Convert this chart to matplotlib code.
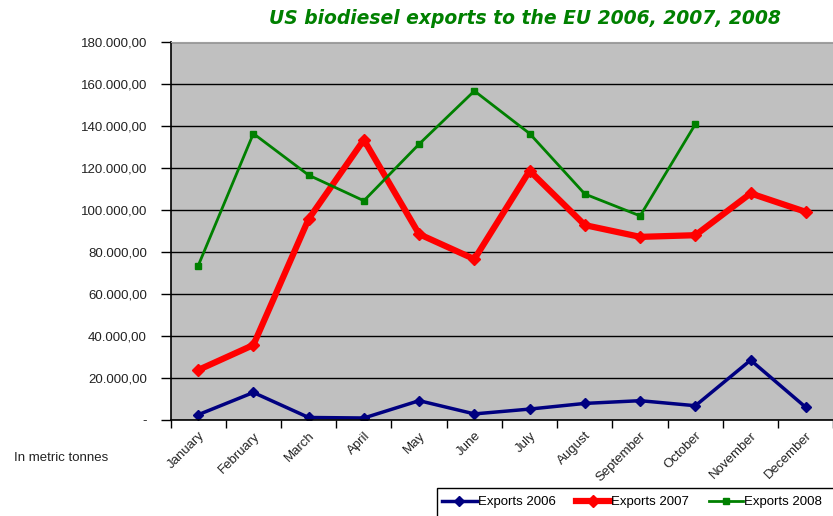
import matplotlib.pyplot as plt
from matplotlib.patches import Rectangle
from matplotlib.ticker import FuncFormatter, MultipleLocator

months = ['January', 'February', 'March', 'April', 'May', 'June', 'July',
          'August', 'September', 'October', 'November', 'December']
exports_2006 = [2500, 13100, 1200, 950, 9200, 2900, 5200, 7900, 9200, 6800, 28500, 6000]
exports_2007 = [23800, 35700, 95700, 133400, 88500, 76600, 118700, 92800, 87200, 88000, 107900, 99100]
exports_2008 = [73400, 136400, 116600, 104400, 131400, 156700, 136400, 107600, 97200, 140900]

plt.rcParams['font.family'] = ['Liberation Sans', 'DejaVu Sans']

fig = plt.figure(figsize=(8.33, 5.16), dpi=100)
ax = fig.add_axes([170.5 / 833, 1 - 420 / 516, 663 / 833, 378 / 516])
ax.set_facecolor('#c0c0c0')

x = list(range(len(months)))
ax.plot(x, exports_2006, color='#000080', lw=2.5, marker='D', ms=5, label='Exports 2006')
ax.plot(x, exports_2007, color='#ff0000', lw=4.5, marker='D', ms=6, label='Exports 2007')
ax.plot(x[:len(exports_2008)], exports_2008, color='#008000', lw=2, marker='s', ms=4.5, label='Exports 2008')

ax.set_xlim(-0.5, 11.5)
ax.set_ylim(0, 180000)
ax.yaxis.set_major_locator(MultipleLocator(20000))


def fmt(v, pos):
    if v == 0:
        return '-'
    s = '{:,.2f}'.format(v)
    return s.replace(',', 'X').replace('.', ',').replace('X', '.')


ax.yaxis.set_major_formatter(FuncFormatter(fmt))
ax.grid(axis='y', color='black', lw=1)
ax.get_ygridlines()[-1].set_visible(False)
ax.set_axisbelow(True)

ax.set_xticks(x)
ax.set_xticklabels(months, rotation=45, ha='right', rotation_mode='anchor', fontsize=9.5, color='#222222')
ax.set_xticks([i - 0.5 for i in range(13)], minor=True)
ax.tick_params(axis='x', which='major', length=0, pad=7)
ax.tick_params(axis='x', which='minor', length=6, width=1, direction='out')
ax.tick_params(axis='y', length=7, width=1, direction='out', labelsize=9.5, labelcolor='#222222', pad=10)

ax.spines['right'].set_visible(False)
ax.spines['top'].set_color('#a0a0a0')
ax.spines['top'].set_linewidth(0.8)
ax.spines['left'].set_linewidth(1.2)
ax.spines['bottom'].set_linewidth(1.2)

fig.text(525 / 833, 1 - 18 / 516, 'US biodiesel exports to the EU 2006, 2007, 2008',
         ha='center', va='center', color='#008000', fontsize=13.5, fontweight='bold',
         fontstyle='italic', family='DejaVu Sans')
fig.text(14 / 833, 1 - 458 / 516, 'In metric tonnes', ha='left', va='center', fontsize=9.5, color='#222222')

# legend box runs off the right and bottom edge in the original
fig.patches.append(Rectangle((437 / 833, -0.05), 0.5, 1.05 - 488 / 516, transform=fig.transFigure,
                             facecolor='white', edgecolor='black', lw=1, zorder=5))
leg = fig.legend(loc='center left', bbox_to_anchor=(437 / 833, 1 - 502 / 516), ncol=3,
                 fontsize=9.5, frameon=False,
                 handlelength=2.6, handletextpad=0.1, columnspacing=1.5, borderpad=0.4,
                 borderaxespad=0)
leg.set_zorder(6)

fig.savefig('out.png', dpi=100)
